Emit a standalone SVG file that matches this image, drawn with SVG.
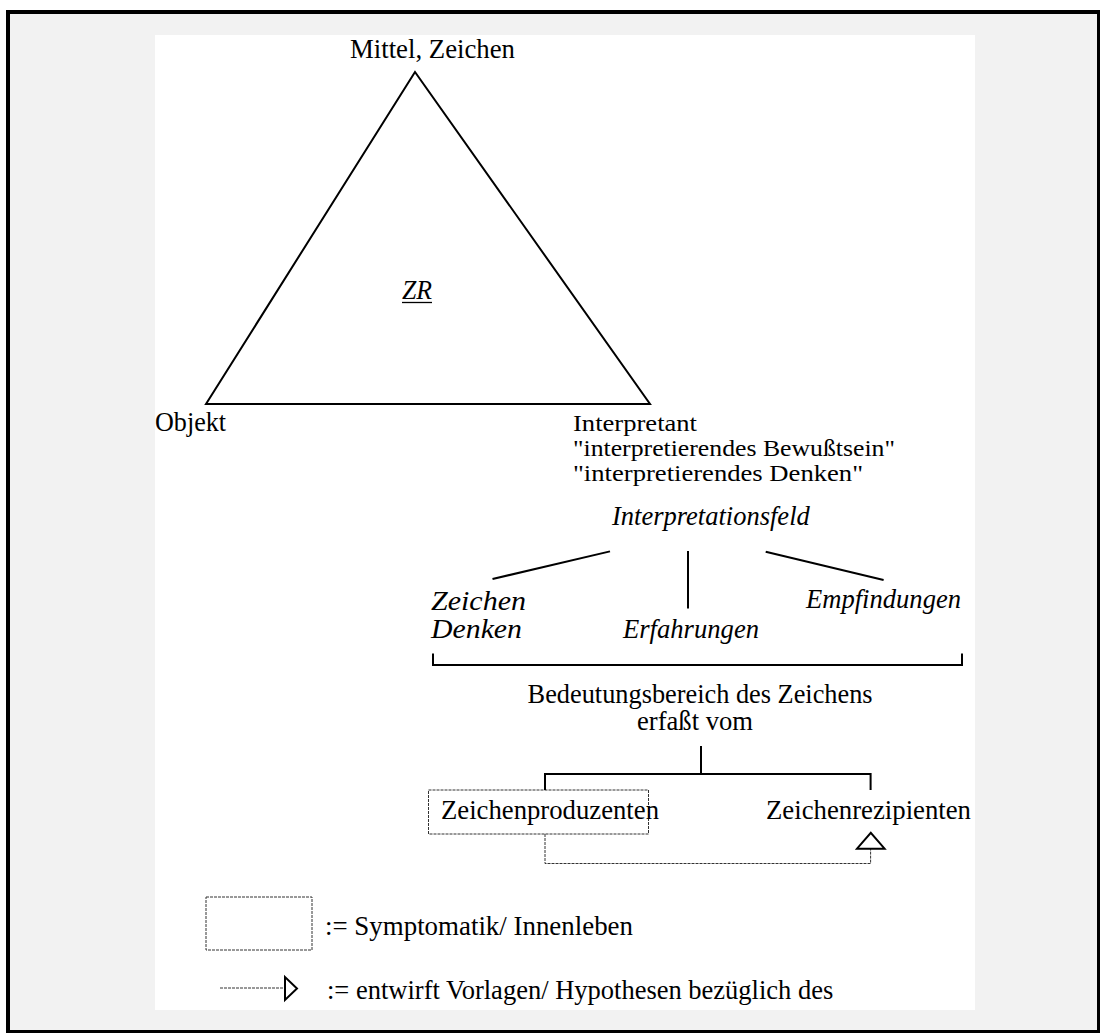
<svg xmlns="http://www.w3.org/2000/svg" width="1100" height="1033" viewBox="0 0 1100 1033">
<style>
text{font-family:"Liberation Serif","Times New Roman",serif;font-size:26.5px;fill:#000}
.it{font-style:italic}
.sm{font-size:24px}
.ln{stroke:#000;stroke-width:2;fill:none}
.dash{stroke:#333;stroke-width:1;stroke-dasharray:3 1;fill:none}
</style>
<rect x="8" y="12" width="1091" height="1020" fill="#f2f2f2" stroke="#000" stroke-width="4"/>
<rect x="155" y="35" width="820" height="975" fill="#fff"/>
<g id="triangle">
<polygon class="ln" points="415,72 206,404 650,404"/>
<text x="402" y="299" class="it" textLength="30" lengthAdjust="spacingAndGlyphs">ZR</text>
<line x1="402" y1="302.5" x2="432" y2="302.5" stroke="#000" stroke-width="1.3"/>
</g>
<g id="mittel"><text x="350" y="58" textLength="165" lengthAdjust="spacingAndGlyphs">Mittel, Zeichen</text></g>
<g id="objekt"><text x="155" y="431" textLength="71" lengthAdjust="spacingAndGlyphs">Objekt</text></g>
<g id="interpretant">
<text x="573" y="431" class="sm" textLength="124" lengthAdjust="spacingAndGlyphs">Interpretant</text>
<text x="573" y="456" class="sm" textLength="322" lengthAdjust="spacingAndGlyphs">"interpretierendes Bewußtsein"</text>
<text x="573" y="480.5" class="sm" textLength="290" lengthAdjust="spacingAndGlyphs">"interpretierendes Denken"</text>
</g>
<g id="interpretationsfeld"><text x="612" y="525" class="it">Interpretationsfeld</text></g>
<g id="zeichen-denken">
<text x="431" y="609.5" class="it" textLength="95" lengthAdjust="spacingAndGlyphs">Zeichen</text>
<text x="431" y="638" class="it" textLength="91" lengthAdjust="spacingAndGlyphs">Denken</text>
</g>
<g id="erfahrungen"><text x="623" y="638" class="it" textLength="136" lengthAdjust="spacingAndGlyphs">Erfahrungen</text></g>
<g id="empfindungen"><text x="806" y="607.5" class="it" textLength="155" lengthAdjust="spacingAndGlyphs">Empfindungen</text></g>
<g id="bedeutung">
<text x="527.6" y="702.5" textLength="345" lengthAdjust="spacingAndGlyphs">Bedeutungsbereich des Zeichens</text>
<text x="637" y="730" textLength="116" lengthAdjust="spacingAndGlyphs">erfaßt vom</text>
</g>
<g id="produzenten">
<rect class="dash" x="428.5" y="790" width="220" height="44"/>
<text x="441" y="819" textLength="218" lengthAdjust="spacingAndGlyphs">Zeichenproduzenten</text>
</g>
<g id="rezipienten"><text x="766" y="819" textLength="205" lengthAdjust="spacingAndGlyphs">Zeichenrezipienten</text></g>
<g id="connectors">
<line class="ln" x1="492.5" y1="579" x2="610" y2="551.4"/>
<line class="ln" x1="688" y1="551" x2="688" y2="608.5"/>
<line class="ln" x1="765.7" y1="551.8" x2="883.6" y2="580"/>
<polyline class="ln" points="433,653.6 433,665 962,665 962,653.6"/>
<line class="ln" x1="701" y1="746" x2="701" y2="774"/>
<polyline class="ln" points="545,790 545,774 870.6,774 870.6,790"/>
<polyline class="dash" points="545,834 545,863.5 870.6,863.5 870.6,848.7"/>
<polygon class="ln" points="857,848.7 884.6,848.7 870.8,832.8" fill="#fff"/>
</g>
<g id="legend">
<rect class="dash" x="206" y="897" width="106" height="53"/>
<text x="325" y="935" textLength="308" lengthAdjust="spacingAndGlyphs">:= Symptomatik/ Innenleben</text>
<line class="dash" x1="220" y1="988" x2="285" y2="988"/>
<polygon class="ln" points="285,977 285,1000 297,988.5" fill="#fff"/>
<text x="327" y="999">:= entwirft Vorlagen/ Hypothesen bezüglich des</text>
</g>
</svg>
